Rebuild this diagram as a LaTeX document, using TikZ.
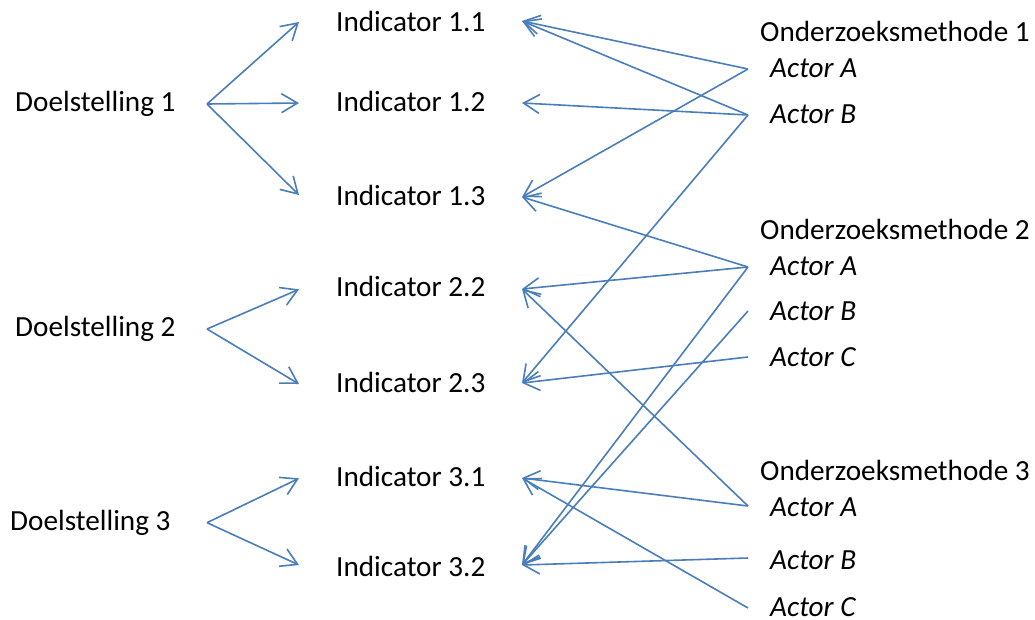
\documentclass[tikz,border=0pt]{standalone}
\usepackage{fontspec}
\setmainfont{Carlito}
\usetikzlibrary{arrows.meta}
\definecolor{lineblue}{RGB}{74,126,187}
\tikzset{
  conn/.style={draw=lineblue, line width=1.6pt, -{Straight Barb[length=16pt,width=19pt]}},
  lbl/.style={anchor=base west, inner sep=0pt, font=\fontsize{29.2}{35}\selectfont},
  act/.style={anchor=base west, inner sep=0pt, font=\fontsize{29.2}{35}\selectfont\itshape},
}
\begin{document}
\begin{tikzpicture}[x=1pt,y=-1pt]
\useasboundingbox (0,0) rectangle (1035,619);
% labels
\node[lbl] (D1) at (15,111.7) {Doelstelling 1};
\node[lbl] (D2) at (15,336.7) {Doelstelling 2};
\node[lbl] (D3) at (10,530.7) {Doelstelling 3};
\node[lbl] (I11) at (336,31) {Indicator 1.1};
\node[lbl] (I12) at (336,111) {Indicator 1.2};
\node[lbl] (I13) at (336,205) {Indicator 1.3};
\node[lbl] (I22) at (336,296.7) {Indicator 2.2};
\node[lbl] (I23) at (336,392.3) {Indicator 2.3};
\node[lbl] (I31) at (336,486.7) {Indicator 3.1};
\node[lbl] (I32) at (336,576.7) {Indicator 3.2};
\node[lbl] (O1) at (760,41) {Onderzoeksmethode 1};
\node[act] (O1A) at (770,77) {Actor A};
\node[act] (O1B) at (770,123) {Actor B};
\node[lbl] (O2) at (760,239) {Onderzoeksmethode 2};
\node[act] (O2A) at (770,275.7) {Actor A};
\node[act] (O2B) at (770,320) {Actor B};
\node[act] (O2C) at (770,366) {Actor C};
\node[lbl] (O3) at (760,480) {Onderzoeksmethode 3};
\node[act] (O3A) at (770,516) {Actor A};
\node[act] (O3B) at (770,569) {Actor B};
\node[act] (O3C) at (770,616) {Actor C};
% ports
\coordinate (d1) at (207,104);
\coordinate (d2) at (207,329);
\coordinate (d3) at (207,522.7);
\coordinate (i11l) at (299,22);
\coordinate (i12l) at (299,103);
\coordinate (i13l) at (299,195);
\coordinate (i22l) at (299,289.3);
\coordinate (i23l) at (299,384);
\coordinate (i31l) at (299,478.3);
\coordinate (i32l) at (299,565);
\coordinate (i11r) at (522,21);
\coordinate (i12r) at (522,103);
\coordinate (i13r) at (522,197);
\coordinate (i22r) at (522,289);
\coordinate (i23r) at (522,383);
\coordinate (i31r) at (522,478);
\coordinate (i32r) at (522,565);
\coordinate (m1a) at (748,69);
\coordinate (m1b) at (748,115);
\coordinate (m2a) at (748,267);
\coordinate (m2b) at (748,311);
\coordinate (m2c) at (748,357);
\coordinate (m3a) at (748,506);
\coordinate (m3b) at (748,558);
\coordinate (m3c) at (748,608);
% doelstelling -> indicator
\draw[conn] (d1) -- (i11l);
\draw[conn] (d1) -- (i12l);
\draw[conn] (d1) -- (i13l);
\draw[conn] (d2) -- (i22l);
\draw[conn] (d2) -- (i23l);
\draw[conn] (d3) -- (i31l);
\draw[conn] (d3) -- (i32l);
% actors -> indicators
\draw[conn] (m1a) -- (i11r);
\draw[conn] (m1a) -- (i13r);
\draw[conn] (m1b) -- (i11r);
\draw[conn] (m1b) -- (i12r);
\draw[conn] (m1b) -- (i23r);
\draw[conn] (m2a) -- (i13r);
\draw[conn] (m2a) -- (i22r);
\draw[conn] (m2a) -- (i32r);
\draw[conn] (m2b) -- (i32r);
\draw[conn] (m2c) -- (i23r);
\draw[conn] (m3a) -- (i31r);
\draw[conn] (m3a) -- (i22r);
\draw[conn] (m3b) -- (i32r);
\draw[conn] (m3c) -- (i31r);
\end{tikzpicture}
\end{document}
